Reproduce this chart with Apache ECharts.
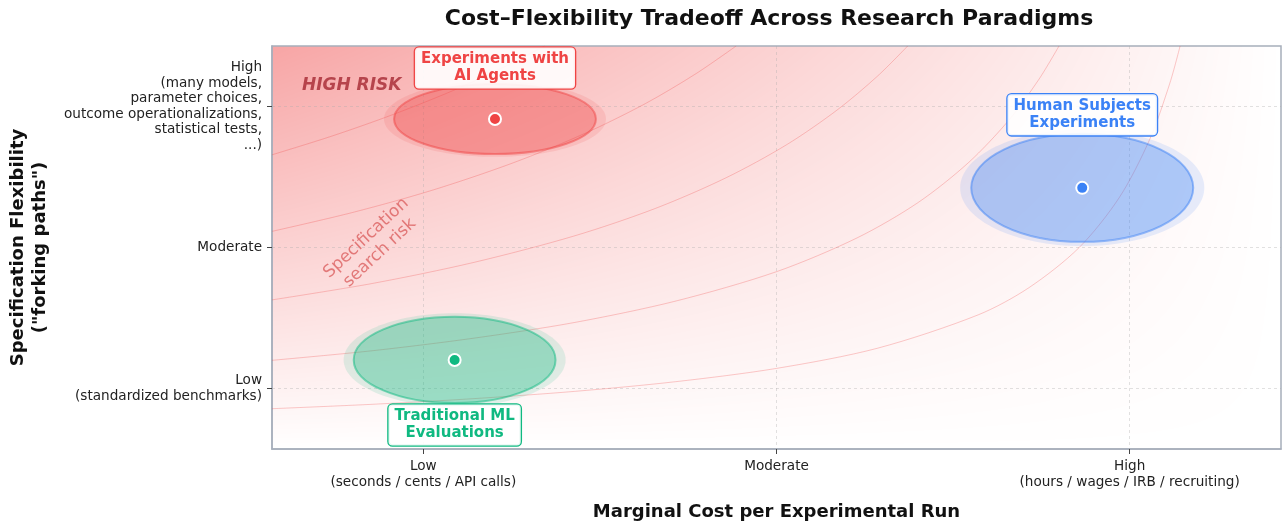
<!DOCTYPE html>
<html>
<head>
<meta charset="utf-8">
<script src="https://cdn.jsdelivr.net/npm/echarts@6/dist/echarts.min.js"></script>
<style>
html, body { margin: 0; padding: 0; background: #fff; }
#chart { width: 1282px; height: 522px; }
</style>
</head>
<body>
<div id="chart"></div>
<script>
// paradigms: position = (cost, flexibility), spread = ellipse width/height in axis units
const paradigms = ['Experiments with\nAI Agents', 'Human Subjects\nExperiments', 'Traditional ML\nEvaluations'];
const costValues = [0.221, 0.803, 0.181];
const flexValues = [0.819, 0.648, 0.221];
const costSpread = [0.2, 0.22, 0.2];
const flexSpread = [0.174, 0.268, 0.214];

const xTickValues = [0.15, 0.5, 0.85];
const xTickLabels = ['Low\n(seconds / cents / API calls)', 'Moderate', 'High\n(hours / wages / IRB / recruiting)'];
const yTickValues = [0.15, 0.5, 0.85];
const yTickLabels = ['Low\n(standardized benchmarks)', 'Moderate',
    'High\n(many models,\nparameter choices,\noutcome operationalizations,\nstatistical tests,\n...)'];

// iso-risk curves
const riskCurve1 = [[0, 0.1], [0.1, 0.111], [0.2, 0.125], [0.3, 0.143], [0.4, 0.167], [0.5, 0.2], [0.6, 0.25], [0.7, 0.333],
    [0.75, 0.4], [0.8, 0.5], [0.84, 0.625], [0.87, 0.769], [0.89, 0.909], [0.9, 1.0]];
const riskCurve2 = [[0, 0.22], [0.1, 0.244], [0.2, 0.275], [0.3, 0.314], [0.4, 0.367], [0.5, 0.44], [0.58, 0.524],
    [0.64, 0.611], [0.69, 0.71], [0.73, 0.815], [0.76, 0.917], [0.78, 1.0]];
const riskCurve3 = [[0, 0.37], [0.1, 0.411], [0.2, 0.463], [0.3, 0.529], [0.38, 0.597], [0.45, 0.673], [0.51, 0.755],
    [0.56, 0.841], [0.6, 0.925], [0.63, 1.0]];
const riskCurve4 = [[0, 0.54], [0.08, 0.587], [0.16, 0.643], [0.24, 0.711], [0.31, 0.783], [0.37, 0.857], [0.42, 0.931], [0.46, 1.0]];
const riskCurve5 = [[0, 0.73], [0.06, 0.777], [0.12, 0.83], [0.18, 0.89], [0.23, 0.948], [0.27, 1.0]];

const colors = ['#ef4444', '#3b82f6', '#10b981'];
const labelOffsets = [[0, -51], [0, -73], [0, 65]];

const FONT = 'DejaVu Sans';
const GRID = { left: 272, top: 46, width: 1009, height: 403 };

function rgba(hex, a) {
    const n = parseInt(hex.slice(1), 16);
    return `rgba(${n >> 16}, ${(n >> 8) & 255}, ${n & 255}, ${a})`;
}

// background shading: darker toward high flexibility / low cost
function riskBackground(w, h) {
    const cv = document.createElement('canvas');
    cv.width = w;
    cv.height = h;
    const ctx = cv.getContext('2d');
    const img = ctx.createImageData(w, h);
    for (let j = 0; j < h; j++) {
        for (let i = 0; i < w; i++) {
            const a = 0.48 * (1 - j / h) * (1 - i / w);
            const k = (j * w + i) * 4;
            img.data[k] = 255 - a * 16;
            img.data[k + 1] = 255 - a * 187;
            img.data[k + 2] = 255 - a * 187;
            img.data[k + 3] = 255;
        }
    }
    ctx.putImageData(img, 0, 0);
    return cv;
}

const chart = echarts.init(document.getElementById('chart'));

function renderBlob(params, api) {
    const c = api.coord([api.value(0), api.value(1)]);
    const s = api.size([api.value(2), api.value(3)]);
    const col = colors[params.dataIndex];
    return {
        type: 'group',
        children: [
            { type: 'ellipse', shape: { cx: c[0], cy: c[1], rx: s[0] / 2 * 1.1, ry: s[1] / 2 * 1.08 },
              style: { fill: rgba(col, 0.13) } },
            { type: 'ellipse', shape: { cx: c[0], cy: c[1], rx: s[0] / 2, ry: s[1] / 2 },
              style: { fill: rgba(col, 0.33), stroke: rgba(col, 0.5), lineWidth: 2 } }
        ]
    };
}

const curveSeries = [riskCurve1, riskCurve2, riskCurve3, riskCurve4, riskCurve5].map((d, i) => ({
    name: 'risk' + (i + 1),
    type: 'line',
    data: d,
    smooth: 0.3,
    symbol: 'none',
    silent: true,
    clip: true,
    z: 1,
    lineStyle: { color: 'rgba(239, 68, 68, 0.28)', width: 1 }
}));

const option = {
    animation: false,
    title: {
        text: 'Cost–Flexibility Tradeoff Across Research Paradigms',
        left: 764, top: 3, textAlign: 'center',
        textStyle: { fontFamily: FONT, fontSize: 22, fontWeight: 'bold', color: '#111' }
    },
    graphic: [{
        type: 'image', left: GRID.left, top: GRID.top, z: -10, silent: true,
        style: { image: riskBackground(GRID.width, GRID.height), width: GRID.width, height: GRID.height }
    }],
    grid: { left: GRID.left, top: GRID.top, width: GRID.width, height: GRID.height, outerBoundsMode: 'none',
        containLabel: false, show: true, borderColor: '#a7aebb', borderWidth: 1.5, backgroundColor: 'transparent' },
    xAxis: {
        type: 'value', min: 0, max: 1,
        name: 'Marginal Cost per Experimental Run',
        nameLocation: 'middle', nameGap: 54,
        nameTextStyle: { fontFamily: FONT, fontSize: 18, fontWeight: 'bold', color: '#111' },
        axisLine: { show: true, lineStyle: { color: '#a7aebb', width: 1.5 } },
        axisTick: { show: true, customValues: xTickValues, length: 5, lineStyle: { color: '#444' } },
        axisLabel: {
            customValues: xTickValues, margin: 10, fontFamily: FONT, fontSize: 13.6, color: '#222', lineHeight: 15.5,
            formatter: v => xTickLabels[xTickValues.indexOf(v)] ?? ''
        },
        splitLine: { show: true, lineStyle: { color: 'rgba(170,170,170,0.45)', type: [3, 3], width: 0.8 } }
    },
    yAxis: {
        type: 'value', min: 0, max: 1,
        name: 'Specification Flexibility\n("forking paths")',
        nameLocation: 'middle', nameGap: 221, nameRotate: 90,
        nameTextStyle: { fontFamily: FONT, fontSize: 18, fontWeight: 'bold', color: '#111', lineHeight: 22 },
        axisLine: { show: true, lineStyle: { color: '#a7aebb', width: 1.5 } },
        axisTick: { show: true, customValues: yTickValues, length: 5, lineStyle: { color: '#444' } },
        axisLabel: {
            customValues: yTickValues, margin: 10, fontFamily: FONT, fontSize: 13.6, color: '#222', lineHeight: 15.6,
            formatter: v => yTickLabels[yTickValues.indexOf(v)] ?? ''
        },
        splitLine: { show: true, lineStyle: { color: 'rgba(170,170,170,0.45)', type: [3, 3], width: 0.8 } }
    },
    series: [
        ...curveSeries,
        {
            name: 'regions',
            type: 'custom',
            renderItem: renderBlob,
            silent: true,
            z: 3,
            data: paradigms.map((p, i) => [costValues[i], flexValues[i], costSpread[i], flexSpread[i]])
        },
        {
            name: 'paradigms',
            type: 'scatter',
            z: 5,
            symbolSize: 12,
            data: paradigms.map((p, i) => ({
                name: p,
                value: [costValues[i], flexValues[i]],
                itemStyle: { color: colors[i], borderColor: '#fff', borderWidth: 2, opacity: 1 },
                label: {
                    show: true, position: 'inside', offset: labelOffsets[i],
                    formatter: p,
                    fontFamily: FONT, fontSize: 15, fontWeight: 'bold', color: colors[i], lineHeight: 17,
                    backgroundColor: 'rgba(255,255,255,0.9)', borderColor: colors[i], borderWidth: 1.3,
                    borderRadius: 4, padding: [4, 6, 3, 6]
                }
            }))
        },
        {
            name: 'annotations',
            type: 'scatter',
            symbolSize: 0,
            silent: true,
            z: 4,
            itemStyle: { opacity: 1 },
            data: [
                { value: [0.079, 0.901], label: { show: true, position: 'inside', formatter: 'HIGH RISK',
                    fontFamily: FONT, fontSize: 17, fontWeight: 'bold', fontStyle: 'italic', color: 'rgba(165, 40, 50, 0.8)' } },
                { value: [0.1, 0.505], label: { show: true, position: 'inside', formatter: 'Specification\nsearch risk',
                    rotate: 43, fontFamily: FONT, fontSize: 17, color: 'rgba(215, 80, 80, 0.7)', lineHeight: 20 } }
            ]
        }
    ]
};

chart.setOption(option);
</script>
</body>
</html>
